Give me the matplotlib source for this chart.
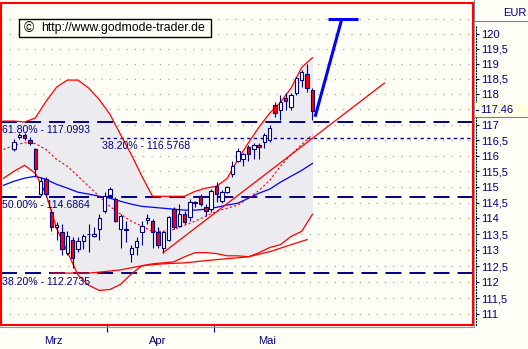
import matplotlib
matplotlib.use('Agg')
import matplotlib.pyplot as plt
from matplotlib.patches import Rectangle
from matplotlib.lines import Line2D
from matplotlib.ticker import FixedLocator, FixedFormatter, NullLocator, NullFormatter

plt.rcParams['font.family'] = ['Liberation Sans', 'DejaVu Sans']
plt.rcParams['lines.scale_dashes'] = False

# ---------------- data ----------------
opens = [116.20, 116.61, 116.68, 116.52, 116.20, 114.77, 115.24, 114.19, 113.72, 113.56,
         112.92, 113.33, 113.02, 113.27, 113.49, 113.43, 113.65, 114.23, 114.73, 114.61,
         113.65, 113.62, 112.89, 113.11, 113.56, 113.94, 113.91, 113.56, 113.08, 113.33,
         114.29, 113.75, 114.13, 114.03, 114.48, 114.70, 114.35, 114.29, 115.02, 114.54,
         114.83, 115.40, 115.82, 115.88, 116.29, 116.23, 116.36, 116.45, 116.52, 117.63,
         117.48, 117.86, 117.58, 118.04, 118.46, 118.65, 118.14]
highs = [116.55, 116.74, 116.74, 116.61, 116.26, 115.31, 115.31, 114.29, 113.87, 113.81,
         113.59, 113.40, 113.40, 113.49, 113.81, 113.72, 114.13, 114.83, 114.99, 114.67,
         114.13, 113.91, 113.17, 113.40, 113.91, 114.13, 113.97, 113.72, 113.59, 114.07,
         114.35, 114.45, 114.23, 114.61, 114.54, 114.77, 114.45, 114.93, 115.15, 114.89,
         115.02, 115.82, 116.26, 116.10, 116.36, 116.42, 116.42, 116.74, 116.99, 117.74,
         117.96, 118.03, 118.03, 118.55, 118.78, 119.00, 118.20]
lows = [116.14, 116.55, 116.52, 116.36, 115.31, 114.70, 114.67, 113.59, 113.33, 112.86,
        112.86, 112.44, 112.95, 113.02, 112.95, 113.40, 113.33, 114.16, 114.67, 113.87,
        113.08, 113.24, 112.63, 112.86, 113.17, 113.81, 113.08, 113.08, 112.92, 113.27,
        113.65, 113.72, 113.81, 113.91, 114.35, 114.38, 114.07, 114.19, 114.51, 114.48,
        114.80, 115.31, 115.79, 115.66, 115.82, 115.88, 115.88, 116.26, 116.45, 117.25,
        117.15, 117.48, 117.48, 117.97, 118.23, 118.08, 117.16]
closes = [116.45, 116.68, 116.58, 116.42, 115.56, 115.18, 114.77, 113.72, 113.78, 113.02,
          113.43, 112.76, 113.27, 113.43, 113.52, 113.52, 114.00, 114.70, 114.93, 113.91,
          114.07, 113.65, 113.05, 113.27, 113.75, 114.00, 113.56, 113.17, 113.56, 114.03,
          113.72, 114.13, 113.87, 114.51, 114.51, 114.45, 114.23, 114.86, 114.77, 114.83,
          114.99, 115.66, 116.14, 116.04, 116.07, 116.36, 116.29, 116.68, 116.90, 117.38,
          117.74, 117.77, 117.97, 118.52, 118.71, 118.20, 117.46]

ind_idx = [-2, 0, 2, 4, 6, 8, 10, 12, 14, 16, 18, 20, 22, 24, 26,
           28, 30, 32, 34, 36, 38, 40, 42, 44, 46, 48, 50, 52, 54, 56]
bb_upper = [117.12, 117.12, 117.09, 117.22, 117.76, 118.23, 118.46, 118.46, 118.20, 117.82,
            117.34, 116.68, 116.04, 115.34, 114.70, 114.70, 114.70, 114.70, 114.86, 114.96,
            115.02, 115.27, 115.88, 116.42, 116.93, 117.38, 117.73, 118.20, 118.88, 119.20]
bb_mid = [116.20, 116.33, 116.42, 116.39, 116.20, 115.88, 115.66, 115.34, 115.02, 114.70,
          114.38, 114.13, 113.91, 113.75, 113.59, 113.59, 113.65, 113.78, 113.91, 114.07,
          114.22, 114.32, 114.42, 114.64, 114.89, 115.21, 115.66, 116.04, 116.36, 116.68]
bb_lower = [115.27, 115.50, 115.69, 115.43, 114.77, 113.68, 112.95, 112.22, 111.90, 111.74,
            111.77, 111.93, 112.25, 112.51, 112.57, 112.60, 112.63, 112.79, 112.92, 112.92,
            112.89, 112.82, 112.82, 112.79, 112.92, 113.08, 113.17, 113.43, 113.59, 114.13]
ma_blue = [115.05, 115.18, 115.28, 115.34, 115.24, 115.08, 114.96, 114.83, 114.77, 114.70,
           114.64, 114.54, 114.45, 114.38, 114.35, 114.32, 114.29, 114.26, 114.26, 114.29,
           114.35, 114.42, 114.48, 114.64, 114.80, 114.93, 115.15, 115.34, 115.53, 115.75]
env_idx = [7, 14, 16, 20, 24, 28, 32, 36, 40, 44, 48, 52, 55]
env_lower = [112.28, 112.28, 112.31, 112.38, 112.51, 112.57, 112.60, 112.67, 112.73,
             112.79, 112.95, 113.17, 113.33]

trend_idx = [28, 69.5]
trend_val = [112.92, 118.36]
proj_idx = [56.5, 61.5]
proj_val = [117.26, 120.48]
proj_cap_idx = [59.0, 64.5]

fib_levels = [117.0993, 116.5768, 114.6864, 112.2735]
fib_labels = ['61.80% - 117.0993', '38.20% - 116.5768', '50.00% - 114.6864', '38.20% - 112.2735']
last_price = 117.46

y_ticks = [111, 111.5, 112, 112.5, 113, 113.5, 114, 114.5, 115, 115.5, 116, 116.5,
           117, 118, 118.5, 119, 119.5, 120]
grid_levels = [111, 111.5, 112, 112.5, 113, 113.5, 114, 114.5, 115, 115.5, 116, 116.5,
               117, 117.5, 118, 118.5, 119, 119.5, 120, 120.5]
months = ['Mrz', 'Apr', 'Mai']
month_label_pos = [7.4, 27.0, 47.5]
month_bounds = [17.45, 37.5]

# ---------------- styling ----------------
BG = '#fefef6'
NAVY = '#000080'
RED = '#ff0000'
BLUE = '#0000ff'
FILL = '#ebebf0'

W, H = 528, 349
fig = plt.figure(figsize=(W / 100, H / 100), dpi=100, facecolor=BG)


def fx(x):
    return x / W


def fy(y):
    return 1 - y / H


X0, X1, YT, YB = 0.8, 472.5, 2.5, 325.2
ax = fig.add_axes([fx(X0), fy(YB), fx(X1) - fx(X0), fy(YT) - fy(YB)])
ax.set_facecolor(BG)
ax.set_yscale('log')
XLIM = (-2.48, 86.04)
YLIM = (110.668, 121.039)
ax.set_xlim(*XLIM)
ax.set_ylim(*YLIM)
ax.yaxis.set_major_locator(NullLocator())
ax.yaxis.set_minor_locator(NullLocator())
for s in ax.spines.values():
    s.set_color(RED)
    s.set_linewidth(1.5)
    s.set_zorder(20)

# grid
for g in grid_levels:
    ax.axhline(g, color='#9c9c9c', lw=0.9, dashes=(0.8, 5.2), zorder=0.5)

# Bollinger fill
ax.fill_between(ind_idx, bb_lower, bb_upper, color=FILL, lw=0, zorder=1)

# Fibonacci lines
for lev, lab in zip(fib_levels, fib_labels):
    if lab.startswith('38.20% - 116'):
        ax.plot([16.1, XLIM[1]], [lev, lev], color=NAVY, lw=1.0, dashes=(2.4, 2.4), zorder=2)
        ax.annotate(lab, xy=(16.5, lev), xycoords='data', xytext=(0, -3.5),
                    textcoords='offset pixels', ha='left', va='top', fontsize=7.6,
                    color=NAVY, zorder=8)
    else:
        ax.axhline(lev, color=NAVY, lw=1.4, dashes=(11.5, 5.8), zorder=2)
        ax.annotate(lab, xy=(0, lev), xycoords=ax.get_yaxis_transform(), xytext=(1, -3.5),
                    textcoords='offset pixels', ha='left', va='top', fontsize=7.6,
                    color=NAVY, zorder=8)

# indicator lines
ax.plot(ind_idx, ma_blue, color=BLUE, lw=0.9, zorder=3)
ax.plot(ind_idx, bb_upper, color=RED, lw=0.9, zorder=3)
ax.plot(ind_idx, bb_lower, color=RED, lw=0.9, zorder=3)
ax.plot(ind_idx, bb_mid, color=RED, lw=0.8, dashes=(1.6, 1.6), zorder=3)
ax.plot(env_idx, env_lower, color=RED, lw=0.9, zorder=3)
ax.plot(trend_idx, trend_val, color=RED, lw=0.9, zorder=3)

# candles
idx = list(range(len(opens)))
ax.vlines(idx, lows, highs, color=NAVY, lw=0.8, zorder=4)
bottoms = [min(o, c) for o, c in zip(opens, closes)]
heights = [max(abs(c - o), 0.012) for o, c in zip(opens, closes)]
colors = ['#ffffff' if c >= o else RED for o, c in zip(opens, closes)]
ax.bar(idx, heights, bottom=bottoms, width=0.64, color=colors, edgecolor=NAVY,
       linewidth=0.8, zorder=5)

# projection
ax.plot(proj_idx, proj_val, color=BLUE, lw=2.2, solid_capstyle='butt', zorder=6)
ax.plot(proj_cap_idx, [proj_val[1], proj_val[1]], color=BLUE, lw=2.2,
        solid_capstyle='butt', zorder=6)

# x axis
ax.xaxis.set_major_locator(FixedLocator(month_bounds))
ax.xaxis.set_major_formatter(NullFormatter())
ax.xaxis.set_minor_locator(FixedLocator(month_label_pos))
ax.xaxis.set_minor_formatter(FixedFormatter(months))
ax.tick_params(axis='x', which='major', direction='out', length=4.7, width=0.8, color=NAVY)
ax.tick_params(axis='x', which='minor', length=0, pad=8.0, labelsize=8, labelcolor=NAVY)

# right price axis
ax2 = ax.twinx()
ax2.set_yscale('log')
ax2.set_ylim(*YLIM)
for k in ['left', 'top', 'bottom']:
    ax2.spines[k].set_visible(False)
ax2.spines['right'].set_position(('outward', 2.2))
ax2.spines['right'].set_linestyle((0, (0.7, 1.4)))
ax2.spines['right'].set_color('black')
ax2.spines['right'].set_linewidth(0.8)
ax2.spines['right'].set_bounds(YLIM[0], 120.28)
ax2.yaxis.set_major_locator(FixedLocator(y_ticks))
ax2.yaxis.set_major_formatter(FixedFormatter([f'{v:g}'.replace('.', ',') for v in y_ticks]))
ax2.yaxis.set_minor_locator(NullLocator())
ax2.tick_params(axis='y', which='major', direction='out', length=2.2, width=0.8,
                color=NAVY, pad=1.5, labelsize=8, labelcolor=NAVY)

# shadow lines of the plot frame
fig.add_artist(Line2D([fx(0), fx(474)], [fy(327), fy(327)], color='#9a9a9a', lw=0.8))
fig.add_artist(Line2D([fx(474), fx(474)], [fy(21), fy(327)], color='#9a9a9a', lw=0.8))

# header "EUR"
fig.add_artist(Line2D([fx(473.5), fx(528)], [fy(21), fy(21)], color='#808080', lw=0.8))
fig.add_artist(Line2D([fx(474), fx(474)], [fy(0), fy(21)], color='#808080', lw=0.8))
fig.text(fx(526), fy(12.5), 'EUR', ha='right', va='center', fontsize=8, color=NAVY)

# last price box
ypx_last = 110.2
fig.patches.append(Rectangle((fx(475), fy(116.5)), fx(528) - fx(475), fy(103.5) - fy(116.5),
                             transform=fig.transFigure, fc='#ffffe1', ec='none', zorder=5))
fig.add_artist(Line2D([fx(475), fx(528)], [fy(116.8), fy(116.8)], color='#808080', lw=0.8,
                      zorder=6))
fig.add_artist(Line2D([fx(475.5), fx(478.2)], [fy(ypx_last), fy(ypx_last)], color=NAVY,
                      lw=0.8, zorder=6))
fig.text(fx(480), fy(ypx_last), f'{last_price:.2f}', ha='left', va='center', fontsize=8,
         color=NAVY, zorder=7)

# copyright box
fig.patches.append(Rectangle((fx(18.5), fy(37)), fx(211) - fx(18.5), fy(18.5) - fy(37),
                             transform=fig.transFigure, fc=BG, ec='black', lw=1.0, zorder=5))
fig.text(fx(23.5), fy(28), '\u00a9', ha='left', va='center', fontsize=10, color='black', zorder=6)
fig.text(fx(41), fy(28), 'http://www.godmode-trader.de', ha='left', va='center',
         fontsize=8.8, color='black', zorder=6)

fig.savefig('out.png', dpi=100, facecolor=BG)
